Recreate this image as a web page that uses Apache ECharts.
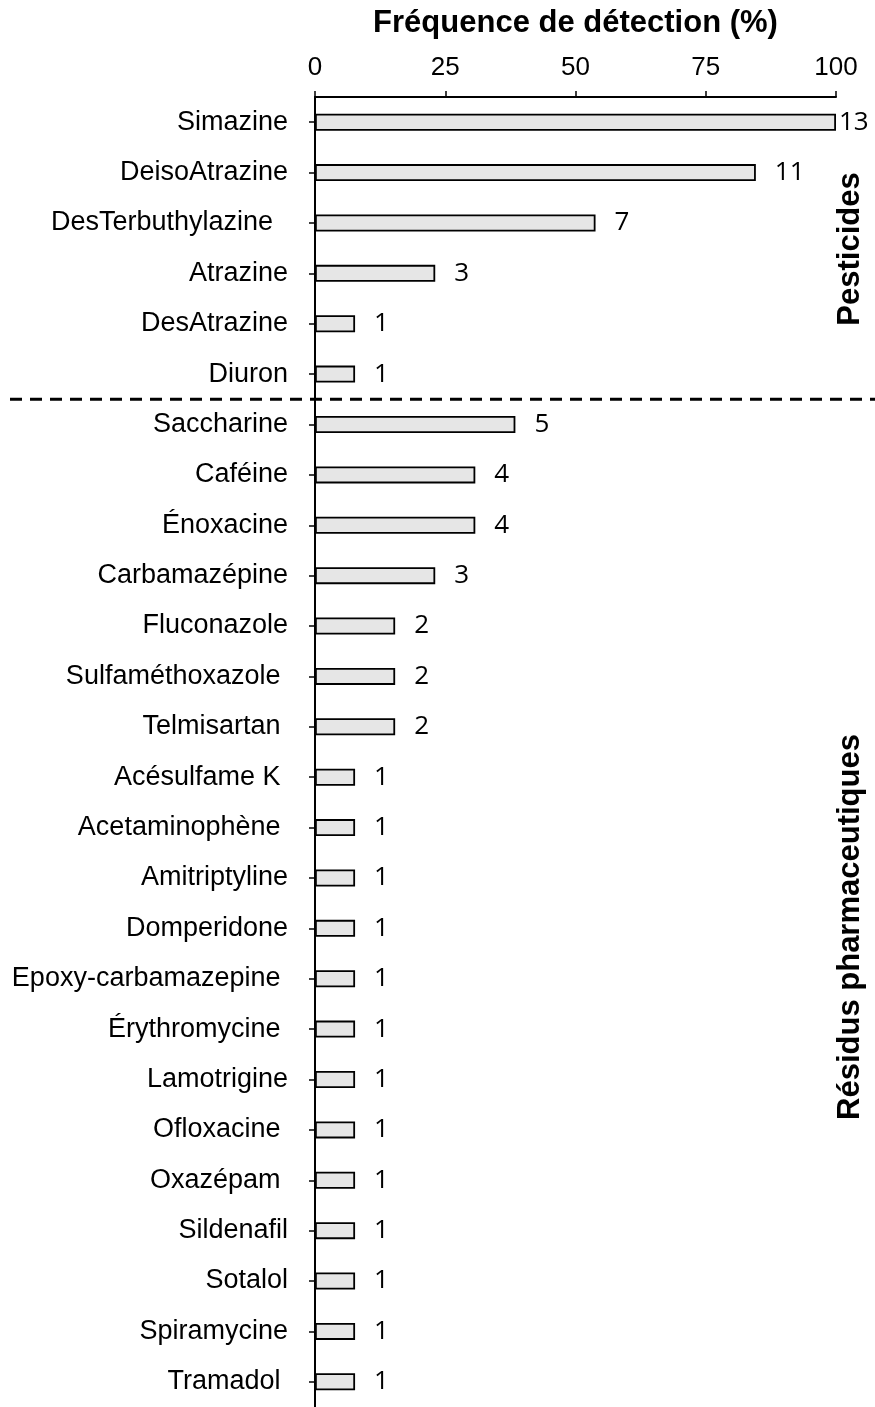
<!DOCTYPE html>
<html>
<head>
<meta charset="utf-8">
<script src="https://cdn.jsdelivr.net/npm/echarts@6/dist/echarts.min.js"></script>
<style>
  html, body { margin: 0; padding: 0; background: #ffffff; }
  #chart { width: 875px; height: 1407px; }
</style>
</head>
<body>
<div id="chart"></div>
<script>
// Compounds, top to bottom (pesticides first, then pharmaceutical residues)
const compounds = [
  'Simazine', 'DeisoAtrazine', 'DesTerbuthylazine  ', 'Atrazine', 'DesAtrazine', 'Diuron',
  'Saccharine', 'Caféine', 'Énoxacine', 'Carbamazépine', 'Fluconazole', 'Sulfaméthoxazole ',
  'Telmisartan ', 'Acésulfame K ', 'Acetaminophène ', 'Amitriptyline', 'Domperidone',
  'Epoxy-carbamazepine ', 'Érythromycine ', 'Lamotrigine', 'Ofloxacine ', 'Oxazépam ',
  'Sildenafil', 'Sotalol', 'Spiramycine', 'Tramadol '
];
// Number of samples in which each compound was detected
const detections = [13, 11, 7, 3, 1, 1, 5, 4, 4, 3, 2, 2, 2, 1, 1, 1, 1, 1, 1, 1, 1, 1, 1, 1, 1, 1];
const sampleCount = 13;
const pesticideCount = 6;
const xTicks = [0, 25, 50, 75, 100];

// Detection frequency in percent of the samples
const frequency = detections.map(n => n / sampleCount * 100);

const chart = echarts.init(document.getElementById('chart'));
const black = '#000000';

chart.setOption({
  backgroundColor: '#ffffff',
  animation: false,
  grid: { left: 315, right: 39, top: 97, height: 1312, containLabel: false },
  xAxis: {
    type: 'value',
    position: 'top',
    min: xTicks[0],
    max: xTicks[xTicks.length - 1],
    interval: xTicks[1] - xTicks[0],
    name: 'Fréquence de détection (%)',
    nameLocation: 'middle',
    nameGap: 58,
    nameTextStyle: { fontFamily: 'Liberation Sans', fontWeight: 'bold', fontSize: 31, color: black },
    axisLine: { show: true, lineStyle: { color: black, width: 2 } },
    axisTick: { show: true, length: 6, lineStyle: { color: black, width: 1.5 } },
    axisLabel: { fontFamily: 'Liberation Sans', fontSize: 26, color: black, margin: 16 },
    splitLine: { show: false }
  },
  yAxis: {
    type: 'category',
    inverse: true,
    data: compounds,
    axisLine: { show: true, lineStyle: { color: black, width: 2 } },
    axisTick: { show: true, length: 6, alignWithLabel: true, lineStyle: { color: black, width: 1.5 } },
    axisLabel: { fontFamily: 'Liberation Sans', fontSize: 27, color: black, margin: 27 },
    splitLine: { show: false }
  },
  series: [{
    type: 'bar',
    barWidth: 17,
    data: frequency.map((v, i) => ({
      value: v,
      label: { distance: v >= 100 ? 3 : 19 }
    })),
    itemStyle: { color: '#e6e6e6', borderColor: black, borderWidth: 1.8 },
    label: {
      show: true,
      position: 'right',
      fontFamily: 'Open Sans',
      fontSize: 26,
      color: black,
      formatter: p => String(detections[p.dataIndex])
    }
  }]
});

// Dashed separator between the two groups, and the group names on the right
const yLast = chart.convertToPixel({ yAxisIndex: 0 }, pesticideCount - 1);
const yFirst = chart.convertToPixel({ yAxisIndex: 0 }, pesticideCount);
const ySep = (yLast + yFirst) / 2;

chart.setOption({
  graphic: [
    {
      type: 'line',
      shape: { x1: 10, y1: ySep, x2: 875, y2: ySep },
      style: { stroke: black, lineWidth: 3, lineDash: [12, 8] },
      z: 10
    },
    {
      type: 'text',
      x: 850, y: 249,
      rotation: Math.PI / 2,
      style: {
        text: 'Pesticides', fill: black, align: 'center', verticalAlign: 'middle',
        font: 'bold 31px "Liberation Sans"'
      }
    },
    {
      type: 'text',
      x: 850, y: 927,
      rotation: Math.PI / 2,
      style: {
        text: 'Résidus pharmaceutiques', fill: black, align: 'center', verticalAlign: 'middle',
        font: 'bold 31px "Liberation Sans"'
      }
    }
  ]
});
</script>
</body>
</html>
